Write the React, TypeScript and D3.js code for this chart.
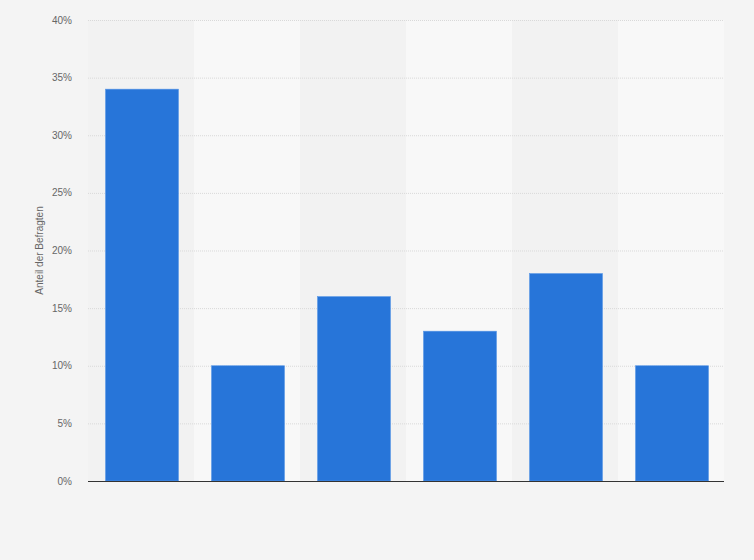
import React, { useEffect, useRef } from 'react';
import * as d3 from 'd3';

// Six answer groups (the reference shows no category labels)
const categories = ['g1', 'g2', 'g3', 'g4', 'g5', 'g6'];
const shares = [34, 10, 16, 13, 18, 10];
const yTicks = [0, 5, 10, 15, 20, 25, 30, 35, 40];
const yLabel = 'Anteil der Befragten';

const App: React.FC = () => {
  const svgRef = useRef<SVGSVGElement>(null);

  useEffect(() => {
    if (!svgRef.current) return;
    const svg = d3.select(svgRef.current);
    svg.selectAll('*').remove();

    const width = 754;
    const height = 560;
    const margin = { top: 20, right: 30, bottom: 79, left: 88 };
    const innerW = width - margin.left - margin.right;
    const innerH = height - margin.top - margin.bottom;

    svg.append('rect').attr('width', width).attr('height', height).attr('fill', '#f4f4f4');

    const g = svg.append('g').attr('transform', `translate(${margin.left},${margin.top})`);

    const x = d3.scaleBand().domain(categories).range([0, innerW]).paddingInner(0).paddingOuter(0);
    const y = d3.scaleLinear().domain([0, 40]).range([innerH, 0]);

    // alternating column bands
    g.selectAll('rect.band')
      .data(categories)
      .enter().append('rect')
      .attr('class', 'band')
      .attr('x', d => x(d)!)
      .attr('y', 0)
      .attr('width', x.bandwidth())
      .attr('height', innerH)
      .attr('fill', (_, i) => (i % 2 === 0 ? '#f2f2f2' : '#f8f8f8'));

    // dotted gridlines
    g.selectAll('line.grid')
      .data(yTicks.filter(t => t > 0))
      .enter().append('line')
      .attr('class', 'grid')
      .attr('x1', 0).attr('x2', innerW)
      .attr('y1', d => y(d) + 0.5).attr('y2', d => y(d) + 0.5)
      .attr('stroke', '#d9d9d9')
      .attr('stroke-width', 1)
      .attr('stroke-dasharray', '1,1');

    // tick labels
    g.selectAll('text.tick')
      .data(yTicks)
      .enter().append('text')
      .attr('class', 'tick')
      .attr('x', -16)
      .attr('y', d => y(d))
      .attr('dy', '0.35em')
      .attr('text-anchor', 'end')
      .attr('font-family', 'Arial, "Liberation Sans", sans-serif')
      .attr('font-size', 10)
      .attr('fill', '#666')
      .text(d => `${d}%`);

    // bars
    const barW = 73;
    g.selectAll('rect.bar')
      .data(shares)
      .enter().append('rect')
      .attr('class', 'bar')
      .attr('x', (_, i) => x(categories[i])! + (x.bandwidth() - barW) / 2 + 1)
      .attr('y', d => y(d))
      .attr('width', barW)
      .attr('height', d => innerH - y(d))
      .attr('fill', '#2775d9')
      .attr('stroke', '#5b98e6')
      .attr('stroke-width', 0.6);

    // baseline
    g.append('line')
      .attr('x1', 0).attr('x2', innerW)
      .attr('y1', innerH + 0.5).attr('y2', innerH + 0.5)
      .attr('stroke', '#333')
      .attr('stroke-width', 1);

    // y axis title
    svg.append('text')
      .attr('transform', `translate(43,${margin.top + innerH / 2}) rotate(-90)`)
      .attr('text-anchor', 'middle')
      .attr('font-family', 'Arial, "Liberation Sans", sans-serif')
      .attr('font-size', 10)
      .attr('fill', '#666')
      .text(yLabel);
  }, []);

  return (
    <svg
      ref={svgRef}
      width={754}
      height={560}
      style={{ display: 'block', position: 'absolute', left: 0, top: 0 }}
    />
  );
};

export default App;
